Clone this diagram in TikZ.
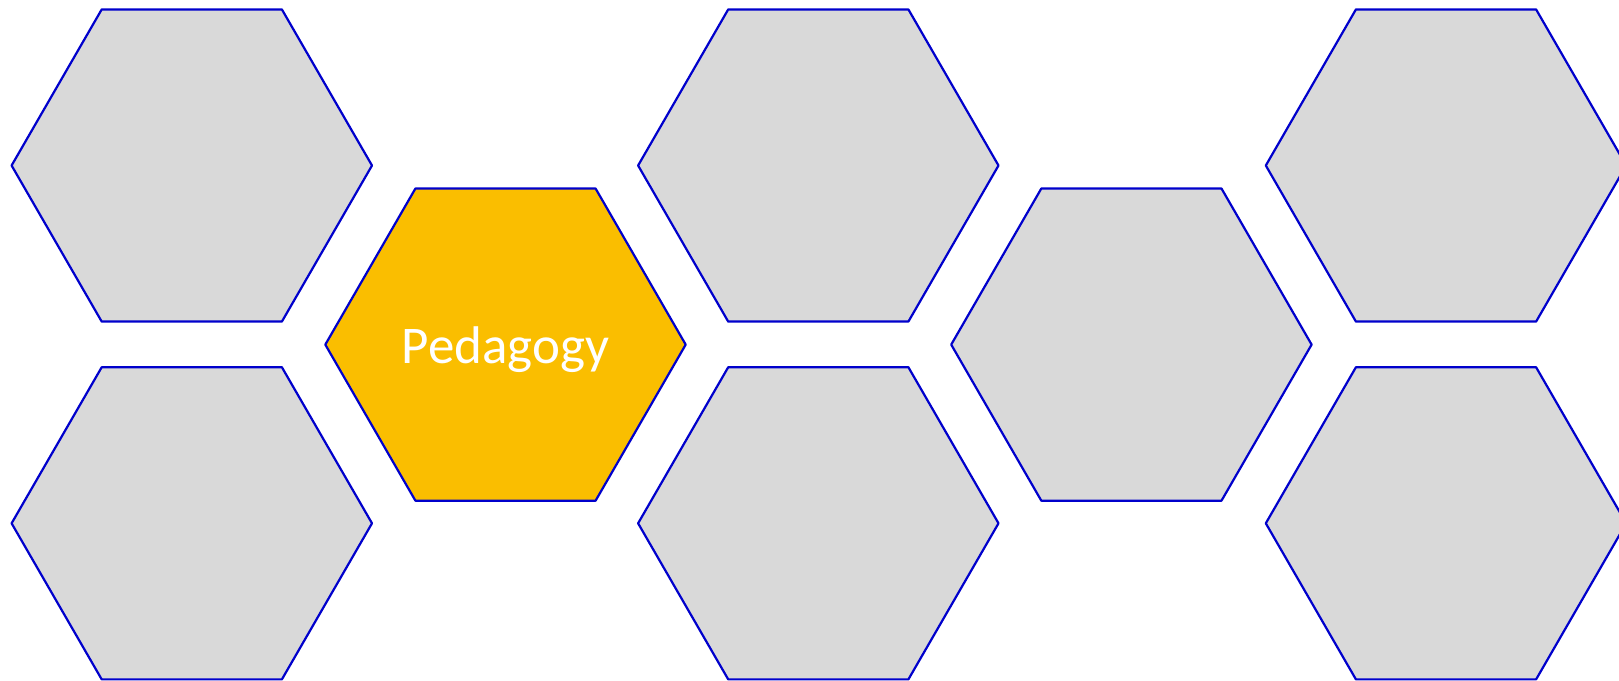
\documentclass[tikz,border=0pt]{standalone}
\usepackage{fontspec}
\setmainfont{Carlito}
\usetikzlibrary{shapes.geometric}
\definecolor{hexgray}{HTML}{D9D9D9}
\definecolor{hexgold}{HTML}{FABE00}
\definecolor{hexline}{HTML}{0000CC}
\begin{document}
\begin{tikzpicture}[x=1pt,y=-1pt,
  hexbox/.style={regular polygon, regular polygon sides=6, minimum size=360.4pt,
    inner sep=0pt, outer sep=0pt, draw=hexline, line width=2.2pt, line join=round, fill=hexgray},
  goldbox/.style={hexbox, fill=hexgold, text=white, font=\fontsize{53}{63}\selectfont,
    text height=37.4pt, text depth=0pt}]
\useasboundingbox (0,0) rectangle (1619,680);
\clip (0,0) rectangle (1619,680);
\node[hexbox] (h1) at (191.8,165.5) {};
\node[hexbox] (h2) at (191.8,523.3) {};
\node[goldbox] (ped) at (505.5,344.6) {Pedagogy};
\node[hexbox] (h3) at (818.3,165.5) {};
\node[hexbox] (h4) at (818.3,523.3) {};
\node[hexbox] (h5) at (1131.4,344.6) {};
\node[hexbox] (h6) at (1446,165.5) {};
\node[hexbox] (h7) at (1446,523.3) {};
\end{tikzpicture}
\end{document}
